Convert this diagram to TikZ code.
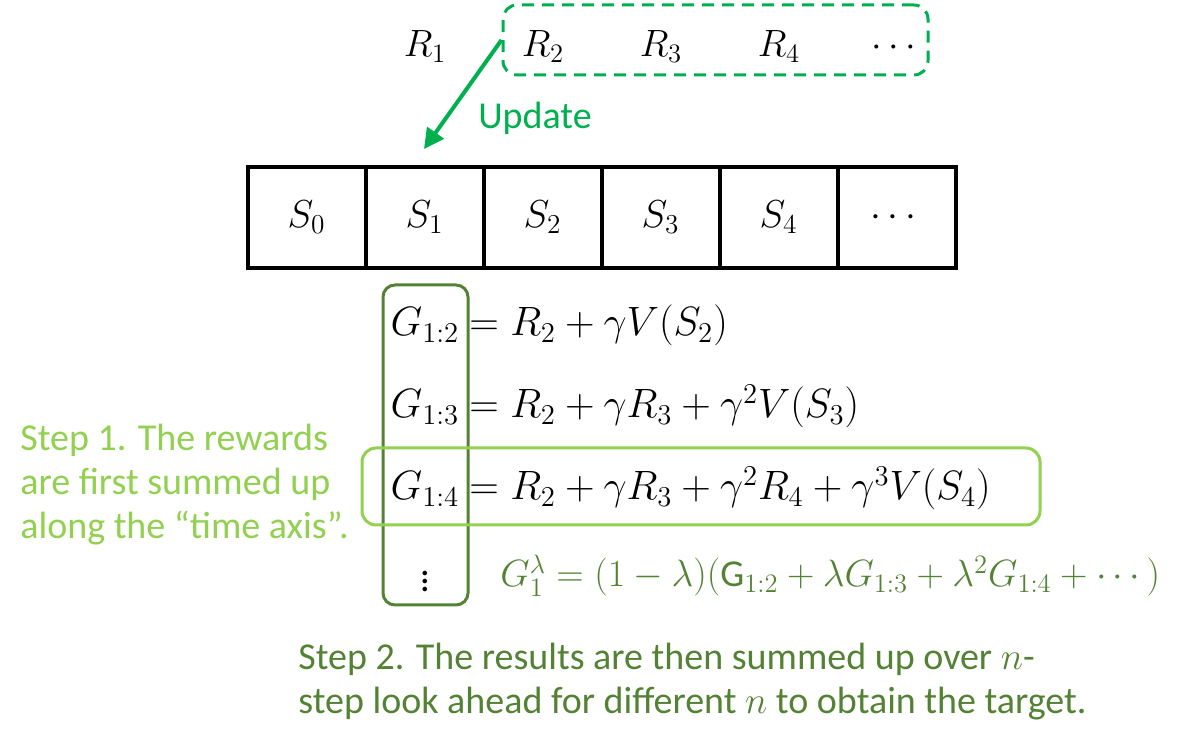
\documentclass[tikz,border=0pt]{standalone}
\usepackage{fix-cm}
\usepackage{amsmath}
\usepackage{amssymb}
\usepackage{fontspec}
\setmainfont{Carlito}
\usetikzlibrary{arrows,arrows.meta,positioning,calc}
\definecolor{upgreen}{HTML}{00B050}
\definecolor{lightgreen}{HTML}{92D050}
\definecolor{darkgreen}{HTML}{548235}

\begin{document}
\begin{tikzpicture}[x=0.5pt,y=-0.5pt,node distance=59pt,on grid,
  txt/.style={font=\fontsize{19}{22}\selectfont,inner sep=0pt},
  eq/.style={txt,text height=14pt,text depth=5pt},
  bigeq/.style={eq,font=\fontsize{20.5}{24}\selectfont},
  cell/.style={draw,line width=2pt,minimum width=59pt,minimum height=50.5pt,inner sep=0pt,font=\fontsize{19.5}{22}\selectfont},
  rbox/.style={draw=upgreen,line width=1.5pt,rounded corners=7pt,dash pattern=on 6pt off 4pt,minimum width=212.5pt,minimum height=35pt},
  colbox/.style={draw=darkgreen,line width=1.5pt,rounded corners=6pt,minimum width=42.5pt,minimum height=160pt},
  rowbox/.style={draw=lightgreen,line width=1.5pt,rounded corners=7pt,minimum width=339pt,minimum height=38.5pt}]
  \useasboundingbox (0,0) rectangle (1180,748);

  \node[eq]           (r1) at (425,48)   {$R_1$};
  \node[eq]           (r2) [right=of r1] {$R_2$};
  \node[eq]           (r3) [right=of r2] {$R_3$};
  \node[eq]           (r4) [right=of r3] {$R_4$};
  \node[eq]           (r5) [right=of r4] {$\cdots$};
  \node[rbox]         (rw) at (715.5,40) {};

  \node[cell]         (s0) at (306.5,217.5) {$S_0$};
  \node[cell]         (s1) [right=of s0] {$S_1$};
  \node[cell]         (s2) [right=of s1] {$S_2$};
  \node[cell]         (s3) [right=of s2] {$S_3$};
  \node[cell]         (s4) [right=of s3] {$S_4$};
  \node[cell]         (s5) [right=of s4] {$\cdots$};

  \coordinate         (tgt) at (424,149);
  \draw[upgreen,line width=2pt,-{Triangle[length=10pt,width=10pt]}] (rw.west) -- (tgt);
  \node[txt,upgreen]  (upd) at (535,118) {Update};

  \node[colbox]       (gc) at (425.5,445) {};
  \node[rowbox]       (gr) at (701,486.5) {};

  \node[bigeq]        (g2) at (425,327)  {$G_{1:2}$};
  \node[bigeq]        (g3) [below=41pt of g2] {$G_{1:3}$};
  \node[bigeq]        (g4) [below=41pt of g3] {$G_{1:4}$};
  \node[txt]          (g5) at (425,575)  {$\vdots$};
  \node[bigeq,anchor=west] (e2) at (469,327) {$=R_2+\gamma V(S_2)$};
  \node[bigeq,anchor=west] (e3) at (469,409) {$=R_2+\gamma R_3+\gamma^2V(S_3)$};
  \node[bigeq,anchor=west] (e4) at (469,491) {$=R_2+\gamma R_3+\gamma^2R_4+\gamma^3V(S_4)$};

  \node[eq,darkgreen,anchor=west] (lam) at (500,578)
    {$G_1^\lambda=(1-\lambda)(\mathrm{G}_{1:2}+\lambda G_{1:3}+\lambda^2G_{1:4}+\cdots)$};

  \node[txt,lightgreen,align=left,anchor=west] (st1) at (20,485)
    {Step 1. The rewards\\are first summed up\\along the “time axis”.};
  \node[txt,darkgreen,align=left,anchor=west] (st2) at (298,682)
    {Step 2. The results are then summed up over $n$-\\step look ahead for different $n$ to obtain the target.};
\end{tikzpicture}
\end{document}
